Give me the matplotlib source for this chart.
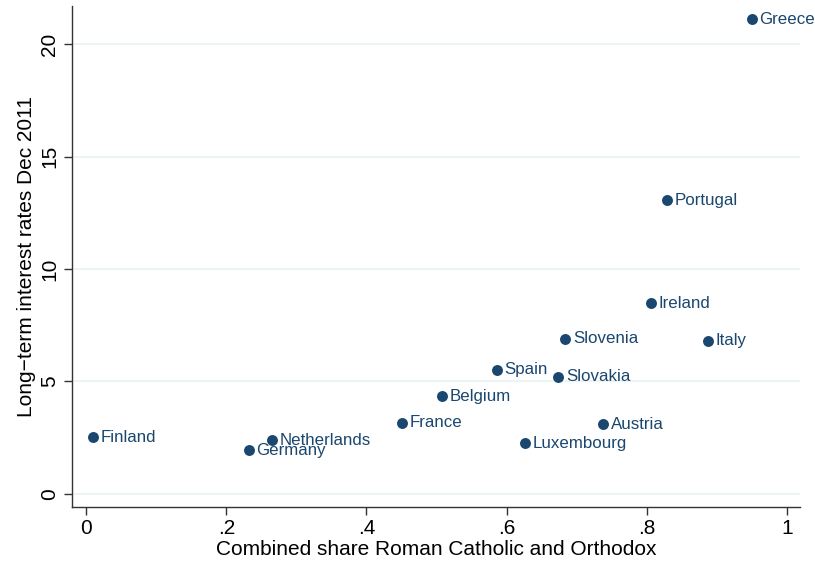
import matplotlib
matplotlib.use("Agg")
import matplotlib.pyplot as plt

countries = ["Finland", "Germany", "Netherlands", "France", "Belgium", "Spain",
             "Slovakia", "Slovenia", "Luxembourg", "Austria", "Ireland", "Italy",
             "Portugal", "Greece"]
catholic_orthodox_share = [0.009, 0.232, 0.265, 0.451, 0.508, 0.586,
                           0.674, 0.684, 0.627, 0.738, 0.806, 0.888,
                           0.829, 0.950]
interest_rate_dec2011 = [2.52, 1.93, 2.39, 3.16, 4.34, 5.51,
                         5.21, 6.89, 2.24, 3.09, 8.48, 6.80,
                         13.07, 21.13]

x_ticks = [0, 0.2, 0.4, 0.6, 0.8, 1]
x_ticklabels = ["0", ".2", ".4", ".6", ".8", "1"]
y_ticks = [0, 5, 10, 15, 20]
y_ticklabels = ["0", "5", "10", "15", "20"]

plt.rcParams["font.family"] = ["Liberation Sans", "DejaVu Sans"]
navy = "#1a476f"

fig = plt.figure(figsize=(8.15, 5.65), dpi=100)
ax = fig.add_axes([0.0883, 0.1027, 0.8933, 0.8867])

ax.scatter(catholic_orthodox_share, interest_rate_dec2011, s=62, color=navy,
           zorder=3, linewidths=0)
for name, xv, yv in zip(countries, catholic_orthodox_share, interest_rate_dec2011):
    ax.annotate(name, (xv, yv), xytext=(5.5, 0), textcoords="offset points",
                va="center", ha="left", fontsize=12.2, color=navy, zorder=4)

ax.set_xlim(-0.0204, 1.019)
ax.set_ylim(-0.59, 21.71)
ax.set_xticks(x_ticks)
ax.set_xticklabels(x_ticklabels)
ax.set_yticks(y_ticks)
ax.set_yticklabels(y_ticklabels, rotation=90, va="center")

ax.yaxis.grid(True, color="#eaf2f3", linewidth=1.2, zorder=0)
ax.xaxis.grid(False)
ax.set_axisbelow(True)

for side in ["top", "right"]:
    ax.spines[side].set_visible(False)
for side in ["left", "bottom"]:
    ax.spines[side].set_color("#333333")
    ax.spines[side].set_linewidth(1.0)

ax.tick_params(axis="both", length=6, width=1, color="#333333",
               labelsize=15, labelcolor="black", pad=3)

ax.set_xlabel("Combined share Roman Catholic and Orthodox", fontsize=15, labelpad=1)
ax.set_ylabel("Long\u2212term interest rates Dec 2011", fontsize=15, labelpad=3)

fig.savefig("out.png", dpi=100, facecolor="white")
